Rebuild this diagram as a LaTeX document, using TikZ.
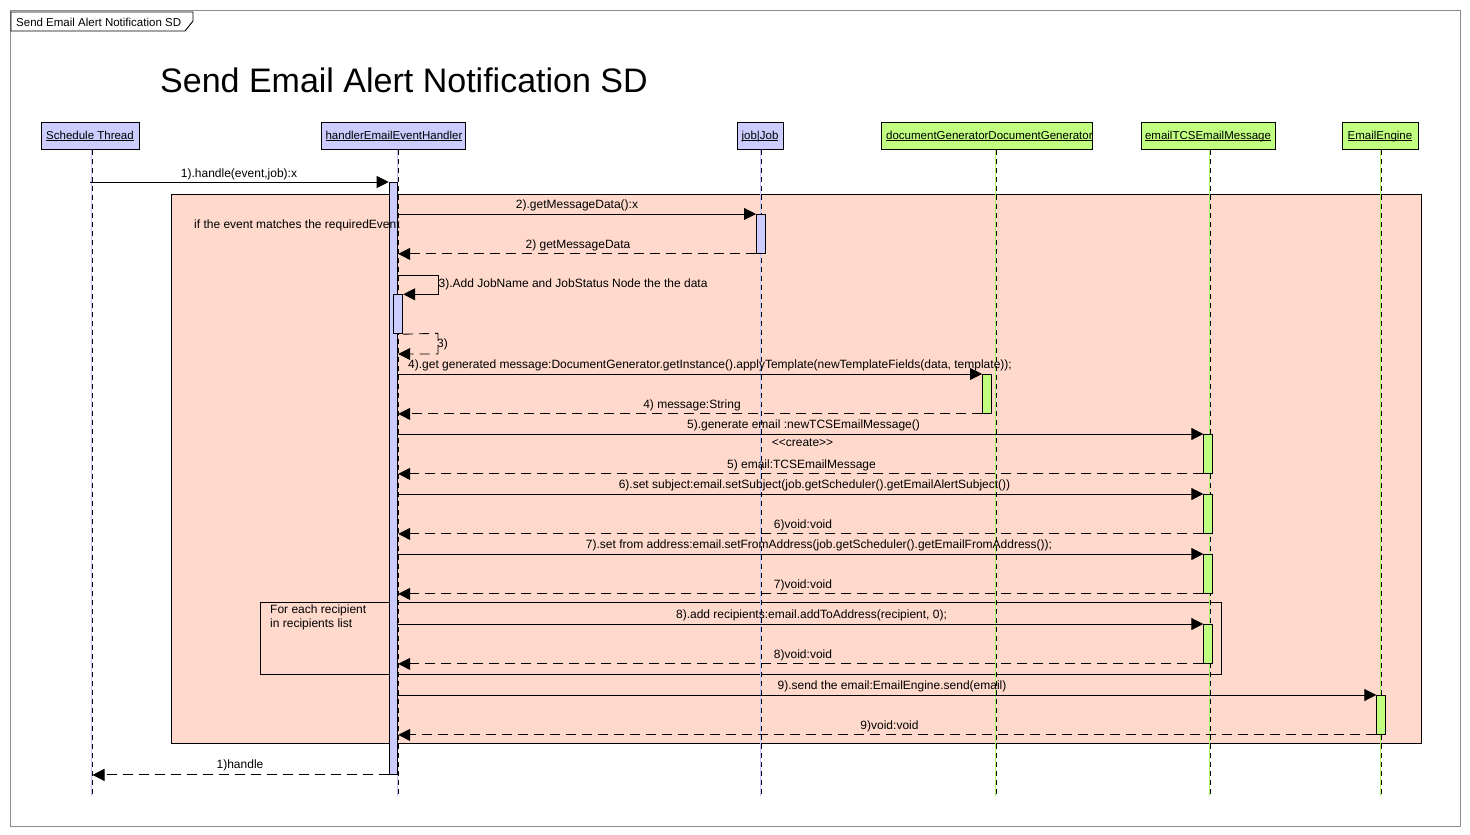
\documentclass[tikz,border=0pt]{standalone}
\usepackage{fontspec}
\setmainfont{Liberation Sans}
\usetikzlibrary{arrows.meta}
\definecolor{lav}{RGB}{204,204,255}
\definecolor{grn}{RGB}{192,255,128}
\definecolor{peach}{RGB}{254,217,204}
\definecolor{lavline}{RGB}{195,195,255}
\definecolor{grnline}{RGB}{175,245,105}
\definecolor{framegray}{RGB}{140,140,140}
\newcommand{\ulab}[1]{\underline{\raisebox{0pt}[\height][0pt]{#1}}}
\begin{document}
\begin{tikzpicture}[x=1pt,y=-1pt,
  every node/.style={font=\fontsize{12}{14}\selectfont, inner sep=0pt},
  headfont/.style={font=\fontsize{11.5}{14}\selectfont},
  headbox/.style={draw=black, line width=1pt, minimum height=27pt, anchor=north},
  headtxt/.style={headfont, anchor=base},
  lbl/.style={anchor=base},
  lifeline/.style={black, line width=0.9pt, dash pattern=on 5pt off 4pt},
  colline/.style={line width=1pt},
  barbox/.style={draw=black, line width=0.9pt, anchor=north west, minimum width=9pt, minimum height=39pt},
  msg/.style={line width=0.9pt, -{Triangle[length=12pt,width=12pt]}},
  ret/.style={msg, dash pattern=on 10pt off 6pt},
  frag/.style={draw=black, line width=0.9pt, anchor=north west}
]
\useasboundingbox (0,0) rectangle (1470,835);
\fill[white] (0,0) rectangle (1470,835);
% outer frame and tab
\draw[framegray, line width=1pt] (10.5,10.5) rectangle (1460.5,826);
\draw[black, line width=0.9pt, fill=white] (11,12) -- (193,12) -- (193,21) -- (185,31) -- (11,31) -- cycle;
\node[headfont, anchor=base west] (tab) at (16,26) {Send Email Alert Notification SD};
\node[anchor=base west, font=\fontsize{34}{40}\selectfont] (title) at (160,92) {Send Email Alert Notification SD};
% fragments
\node[frag, fill=peach, minimum width=1250pt, minimum height=549pt] (alt) at (171,194) {};
\node[frag, minimum width=961pt, minimum height=72pt] (loop) at (260,602) {};
% heads
\node[headbox, fill=lav, minimum width=98pt] (st) at (90,122) {};
\node[headbox, fill=lav, minimum width=144pt] (hd) at (393,122) {};
\node[headbox, fill=lav, minimum width=46pt] (jb) at (760,122) {};
\node[headbox, fill=grn, minimum width=211pt] (dg) at (986.5,122) {};
\node[headbox, fill=grn, minimum width=134pt] (em) at (1208,122) {};
\node[headbox, fill=grn, minimum width=76pt] (ee) at (1380,122) {};
\node[headtxt] (stt) at (90,139) {\ulab{Schedule Thread}};
\node[headtxt] (hdt) at (394,139) {\ulab{handlerEmailEventHandler}};
\node[headtxt] (jbt) at (760,139) {\ulab{job|Job}};
\node[headtxt, anchor=base west] (dgt) at (886,139) {\ulab{documentGeneratorDocumentGenerator}};
\node[headtxt] (emt) at (1208,139) {\ulab{emailTCSEmailMessage}};
\node[headtxt] (eet) at (1380,139) {\ulab{EmailEngine}};
% lifelines
\foreach \n/\s/\c in {st/2.5/lavline, hd/5/lavline, jb/1/lavline, dg/10/grnline, em/2/grnline, ee/1/grnline}{
  \draw[colline, \c] ([xshift=\s pt-1pt]\n.south) -- ++(0,646);
  \draw[lifeline] ([xshift=\s pt]\n.south) -- ++(0,646);
}
\coordinate (stl) at ([xshift=2.5pt]st.south);
% activation bars
\node[barbox, fill=lav, minimum width=8.6pt, minimum height=592pt] (hbar) at (388.7,182) {};
\node[barbox, fill=lav] (sbar) at (393.3,294.3) {};
\node[barbox, fill=lav] (jbar) at (756,214) {};
\node[barbox, fill=grn] (dbar) at (982,374) {};
\node[barbox, fill=grn] (e1) at (1203.3,434) {};
\node[barbox, fill=grn] (e2) at (1203.3,494) {};
\node[barbox, fill=grn] (e3) at (1203.3,554) {};
\node[barbox, fill=grn] (e4) at (1203.3,624) {};
\node[barbox, fill=grn] (ebar) at (1376.3,695) {};
% messages
\draw[msg] (st.south |- hbar.north west) -- (hbar.north west);
\draw[msg] (hbar.east |- jbar.north west) -- (jbar.north west);
\draw[ret] (jbar.south west) -- (hbar.east |- jbar.south west);
\draw[msg] (hbar.east |- 0,275) -- (438,275) -- (438,294.3) -- (sbar.north east);
\draw[ret] (sbar.south east) -- (438,333.3) -- (438,354) -- (hbar.east |- 0,354);
\draw[msg] (hbar.east |- dbar.north west) -- (dbar.north west);
\draw[ret] (dbar.south west) -- (hbar.east |- dbar.south west);
\foreach \b in {e1,e2,e3,e4}{
  \draw[msg] (hbar.east |- \b.north west) -- (\b.north west);
  \draw[ret] (\b.south west) -- (hbar.east |- \b.south west);
}
\draw[msg] (hbar.east |- ebar.north west) -- (ebar.north west);
\draw[ret] (ebar.south west) -- (hbar.east |- ebar.south west);
\draw[ret] (hbar.south west) -- (stl |- hbar.south west);
% labels
\node[lbl] (l1) at (239,177.5) {1).handle(event,job):x};
\node[lbl] (l2) at (577,208) {2).getMessageData():x};
\node[lbl, anchor=base west] (lif) at (194,228.5) {if the event matches the requiredEvent};
\node[lbl] (l2r) at (578,248) {2) getMessageData};
\node[lbl, anchor=base west] (l3) at (438.5,287) {3).Add JobName and JobStatus Node the the data};
\node[lbl, anchor=base west] (l3r) at (437,347) {3)};
\node[lbl] (l4) at (710,368) {4).get generated message:DocumentGenerator.getInstance().applyTemplate(newTemplateFields(data, template));};
\node[lbl] (l4r) at (692,408) {4) message:String};
\node[lbl] (l5) at (803.5,428) {5).generate email :newTCSEmailMessage()};
\node[lbl] (cr) at (802.5,446) {<\kern0pt<create>\kern0pt>};
\node[lbl] (l5r) at (801.5,468) {5) email:TCSEmailMessage};
\node[lbl] (l6) at (814.5,488) {6).set subject:email.setSubject(job.getScheduler().getEmailAlertSubject())};
\node[lbl] (l6r) at (803,528) {6)void:void};
\node[lbl] (l7) at (819,548) {7).set from address:email.setFromAddress(job.getScheduler().getEmailFromAddress());};
\node[lbl] (l7r) at (803,588) {7)void:void};
\node[lbl, anchor=base west] (lp1) at (270,613) {For each recipient};
\node[lbl, anchor=base west] (lp2) at (270,627) {in recipients list};
\node[lbl] (l8) at (811.5,618) {8).add recipients:email.addToAddress(recipient, 0);};
\node[lbl] (l8r) at (803,658) {8)void:void};
\node[lbl] (l9) at (892,689) {9).send the email:EmailEngine.send(email)};
\node[lbl] (l9r) at (889.5,729) {9)void:void};
\node[lbl] (l1r) at (240,768.5) {1)handle};
\end{tikzpicture}
\end{document}
